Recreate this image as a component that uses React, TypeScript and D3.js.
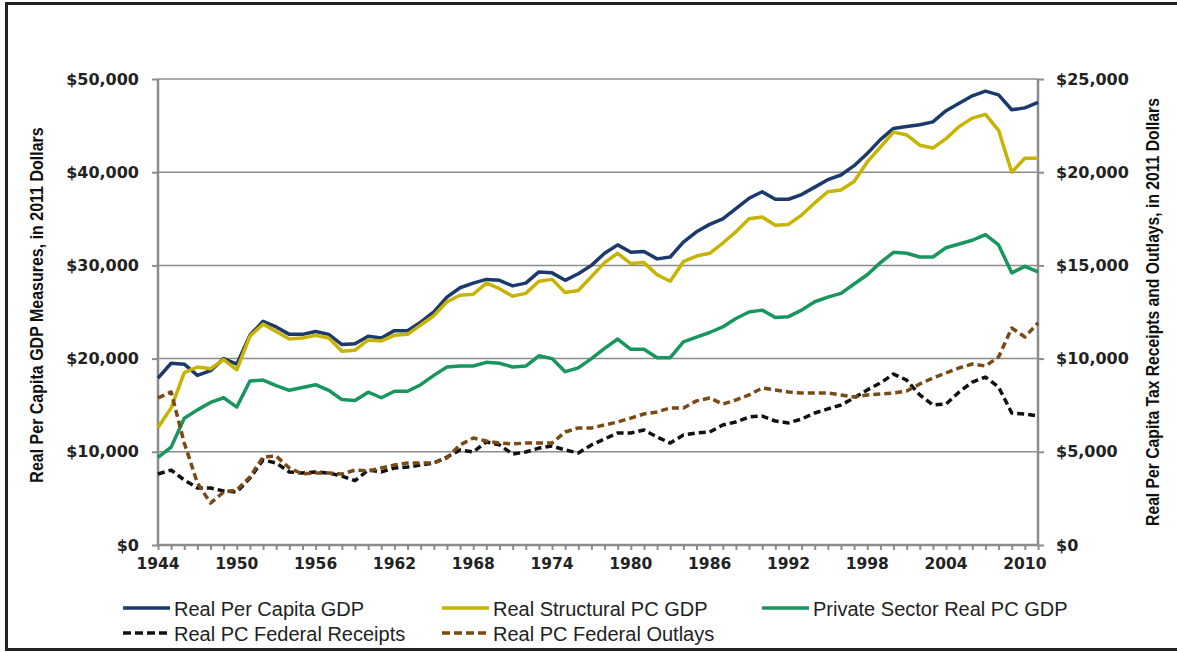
import React, { useEffect, useRef } from "react";
import * as d3 from "d3";

// Years on the category axis
const years = d3.range(1944, 2012);

// Left axis series (real per capita GDP measures, 2011 dollars)
const realPerCapitaGdp = [
  17900, 19500, 19400, 18200, 18700, 20000, 19400, 22500, 24000, 23400,
  22600, 22600, 22900, 22600, 21500, 21600, 22400, 22200, 23000, 23000,
  23900, 25000, 26600, 27600, 28100, 28500, 28400, 27800, 28100, 29300,
  29200, 28400, 29100, 30000, 31300, 32200, 31400, 31500, 30700, 30900,
  32500, 33600, 34400, 35000, 36100, 37200, 37900, 37100, 37100, 37600,
  38400, 39200, 39700, 40700, 42000, 43500, 44700, 44900, 45100, 45400,
  46600, 47400, 48200, 48700, 48300, 46700, 46900, 47500,
];

const realStructuralGdp = [
  12600, 14700, 18500, 19100, 18900, 19900, 18800, 22400, 23700, 22900,
  22100, 22200, 22500, 22200, 20800, 20900, 22000, 21900, 22500, 22600,
  23600, 24600, 26100, 26800, 26900, 28100, 27500, 26700, 27000, 28300,
  28500, 27100, 27300, 28800, 30300, 31300, 30200, 30300, 29000, 28300,
  30400, 31000, 31300, 32400, 33600, 35000, 35200, 34300, 34400, 35400,
  36700, 37900, 38100, 39000, 41100, 42700, 44300, 44000, 42900, 42600,
  43600, 44900, 45800, 46200, 44500, 40000, 41500, 41500,
];

const privateSectorGdp = [
  9400, 10500, 13600, 14500, 15300, 15800, 14800, 17600, 17700, 17100,
  16600, 16900, 17200, 16600, 15600, 15500, 16400, 15800, 16500, 16500,
  17200, 18200, 19100, 19200, 19200, 19600, 19500, 19100, 19200, 20300,
  20000, 18600, 19000, 20000, 21100, 22100, 21000, 21000, 20100, 20100,
  21800, 22300, 22800, 23400, 24300, 25000, 25200, 24400, 24500, 25200,
  26100, 26600, 27000, 28000, 29000, 30300, 31400, 31300, 30900, 30900,
  31900, 32300, 32700, 33300, 32200, 29200, 29900, 29300,
];

// Right axis series (federal receipts and outlays per capita)
const federalReceipts = [
  3810, 4020, 3490, 3060, 3060, 2900, 2840, 3590, 4560, 4400,
  3920, 3860, 3920, 3860, 3700, 3450, 4020, 3920, 4130, 4180,
  4290, 4400, 4720, 5100, 4990, 5530, 5370, 4880, 4990, 5200,
  5310, 5100, 4940, 5370, 5690, 6010, 6010, 6170, 5790, 5470,
  5900, 6010, 6060, 6440, 6600, 6870, 6920, 6650, 6550, 6760,
  7080, 7300, 7510, 7890, 8320, 8690, 9170, 8850, 8050, 7510,
  7560, 8210, 8740, 9010, 8480, 7080, 7030, 6920,
];

const federalOutlays = [
  7890, 8210, 5470, 3330, 2250, 2840, 2950, 3650, 4720, 4770,
  4130, 3810, 3860, 3860, 3810, 4020, 3970, 4130, 4290, 4400,
  4400, 4400, 4670, 5370, 5740, 5580, 5470, 5420, 5470, 5470,
  5470, 6060, 6280, 6280, 6440, 6600, 6810, 7030, 7140, 7350,
  7350, 7730, 7890, 7560, 7780, 8050, 8420, 8320, 8210, 8150,
  8150, 8150, 8050, 7940, 8050, 8100, 8150, 8260, 8640, 8960,
  9230, 9500, 9710, 9600, 10090, 11640, 11160, 11910,
];

const leftTicks = [0, 10000, 20000, 30000, 40000, 50000];
const rightTicks = [0, 5000, 10000, 15000, 20000, 25000];
const yearLabels = [1944, 1950, 1956, 1962, 1968, 1974, 1980, 1986, 1992, 1998, 2004, 2010];

const series = [
  { name: "Real Per Capita GDP", values: realPerCapitaGdp, axis: "left", color: "#1b3a6b", dash: null },
  { name: "Real Structural PC GDP", values: realStructuralGdp, axis: "left", color: "#c8b400", dash: null },
  { name: "Private Sector Real PC GDP", values: privateSectorGdp, axis: "left", color: "#18965e", dash: null },
  { name: "Real PC Federal Receipts", values: federalReceipts, axis: "right", color: "#111111", dash: "7,4" },
  { name: "Real PC Federal Outlays", values: federalOutlays, axis: "right", color: "#7a4a16", dash: "7,4" },
];

const Chart = () => {
  const ref = useRef<SVGSVGElement>(null);

  useEffect(() => {
    const width = 1177,
      height = 652;
    const left = 158,
      right = 1038,
      top = 79,
      bottom = 545;
    const font = "'Liberation Sans', Arial, sans-serif";
    const tickFont = "'DejaVu Sans', Verdana, sans-serif";

    const svg = d3.select(ref.current);
    svg.selectAll("*").remove();
    svg.attr("width", width).attr("height", height);

    svg.append("rect").attr("width", width).attr("height", height).attr("fill", "#fff");

    // Outer frame
    svg
      .append("rect")
      .attr("x", 6.5)
      .attr("y", 3.5)
      .attr("width", width + 10)
      .attr("height", 646)
      .attr("fill", "none")
      .attr("stroke", "#222")
      .attr("stroke-width", 3);

    const x = d3.scaleLinear().domain([1944, 2011]).range([left, right]);
    const yLeft = d3.scaleLinear().domain([0, 50000]).range([bottom, top]);
    const yRight = d3.scaleLinear().domain([0, 25000]).range([bottom, top]);

    // Gridlines
    svg
      .append("g")
      .selectAll("line")
      .data(leftTicks.filter((d) => d > 0))
      .enter()
      .append("line")
      .attr("x1", left)
      .attr("x2", right)
      .attr("y1", (d) => yLeft(d))
      .attr("y2", (d) => yLeft(d))
      .attr("stroke", "#8c8c8c")
      .attr("stroke-width", 1.5);

    // Left axis
    const leftAxis = svg
      .append("g")
      .attr("transform", `translate(${left},0)`)
      .call(
        d3
          .axisLeft(yLeft)
          .tickValues(leftTicks)
          .tickSize(6)
          .tickPadding(13)
          .tickFormat((d) => d3.format("$,")(d as number))
      );

    // Right axis
    const rightAxis = svg
      .append("g")
      .attr("transform", `translate(${right},0)`)
      .call(
        d3
          .axisRight(yRight)
          .tickValues(rightTicks)
          .tickSize(6)
          .tickPadding(12)
          .tickFormat((d) => d3.format("$,")(d as number))
      );

    // Bottom axis with a tick for every year
    const bottomAxis = svg
      .append("g")
      .attr("transform", `translate(0,${bottom})`)
      .call(d3.axisBottom(x).tickValues(years).tickSize(5).tickFormat(() => ""));

    svg
      .append("g")
      .selectAll("text")
      .data(yearLabels)
      .enter()
      .append("text")
      .attr("x", (d) => x(d))
      .attr("y", bottom + 24)
      .attr("text-anchor", "middle")
      .style("font-family", tickFont)
      .style("font-weight", "bold")
      .style("font-size", "15.5px")
      .style("fill", "#222")
      .text((d) => d);

    [leftAxis, rightAxis, bottomAxis].forEach((g) => {
      g.selectAll("path, line").attr("stroke", "#8c8c8c").attr("stroke-width", 2);
      g.select(".domain").attr("stroke-width", 2.5);
      g.selectAll("text")
        .style("font-family", tickFont)
        .style("font-weight", "bold")
        .style("font-size", "16px")
        .style("fill", "#222");
    });
    rightAxis.select(".domain").attr("d", `M0,${top}V${bottom}`);
    leftAxis.select(".domain").attr("d", `M0,${top}V${bottom}`);
    bottomAxis.select(".domain").attr("d", `M${left},0H${right}`);

    // Axis titles
    svg
      .append("text")
      .attr("transform", `translate(43,305) rotate(-90) scale(1,1.15)`)
      .attr("text-anchor", "middle")
      .style("font-family", font)
      .style("font-weight", "bold")
      .style("font-size", "16px")
      .style("fill", "#111")
      .text("Real Per Capita GDP Measures, in 2011 Dollars");

    svg
      .append("text")
      .attr("transform", `translate(1159,312) rotate(-90) scale(1,1.15)`)
      .attr("text-anchor", "middle")
      .style("font-family", font)
      .style("font-weight", "bold")
      .style("font-size", "15.7px")
      .style("fill", "#111")
      .text("Real Per Capita Tax Receipts and Outlays, in 2011 Dollars");

    // Series lines
    series.forEach((s) => {
      const y = s.axis === "left" ? yLeft : yRight;
      const line = d3
        .line<number>()
        .x((d, i) => x(years[i]))
        .y((d) => y(d));
      svg
        .append("path")
        .datum(s.values)
        .attr("d", line)
        .attr("fill", "none")
        .attr("stroke", s.color)
        .attr("stroke-width", 3.5)
        .attr("stroke-linejoin", "round")
        .attr("stroke-dasharray", s.dash);
    });

    // Legend
    const legendPos = [
      [123, 608],
      [442, 608],
      [762, 608],
      [123, 633],
      [442, 633],
    ];
    const legend = svg
      .append("g")
      .selectAll("g")
      .data(series)
      .enter()
      .append("g")
      .attr("transform", (d, i) => `translate(${legendPos[i][0]},${legendPos[i][1]})`);
    legend
      .append("line")
      .attr("x1", 0)
      .attr("x2", 47)
      .attr("stroke", (d) => d.color)
      .attr("stroke-width", 3.5)
      .attr("stroke-dasharray", (d) => (d.dash ? "8,4" : null));
    legend
      .append("text")
      .attr("x", 51)
      .attr("y", 7.5)
      .style("font-family", font)
      .style("font-size", "20px")
      .style("fill", "#222")
      .text((d) => d.name);
  }, []);

  return <svg ref={ref} style={{ position: "absolute", left: 0, top: 0 }}></svg>;
};

export default function App() {
  return <Chart />;
}
